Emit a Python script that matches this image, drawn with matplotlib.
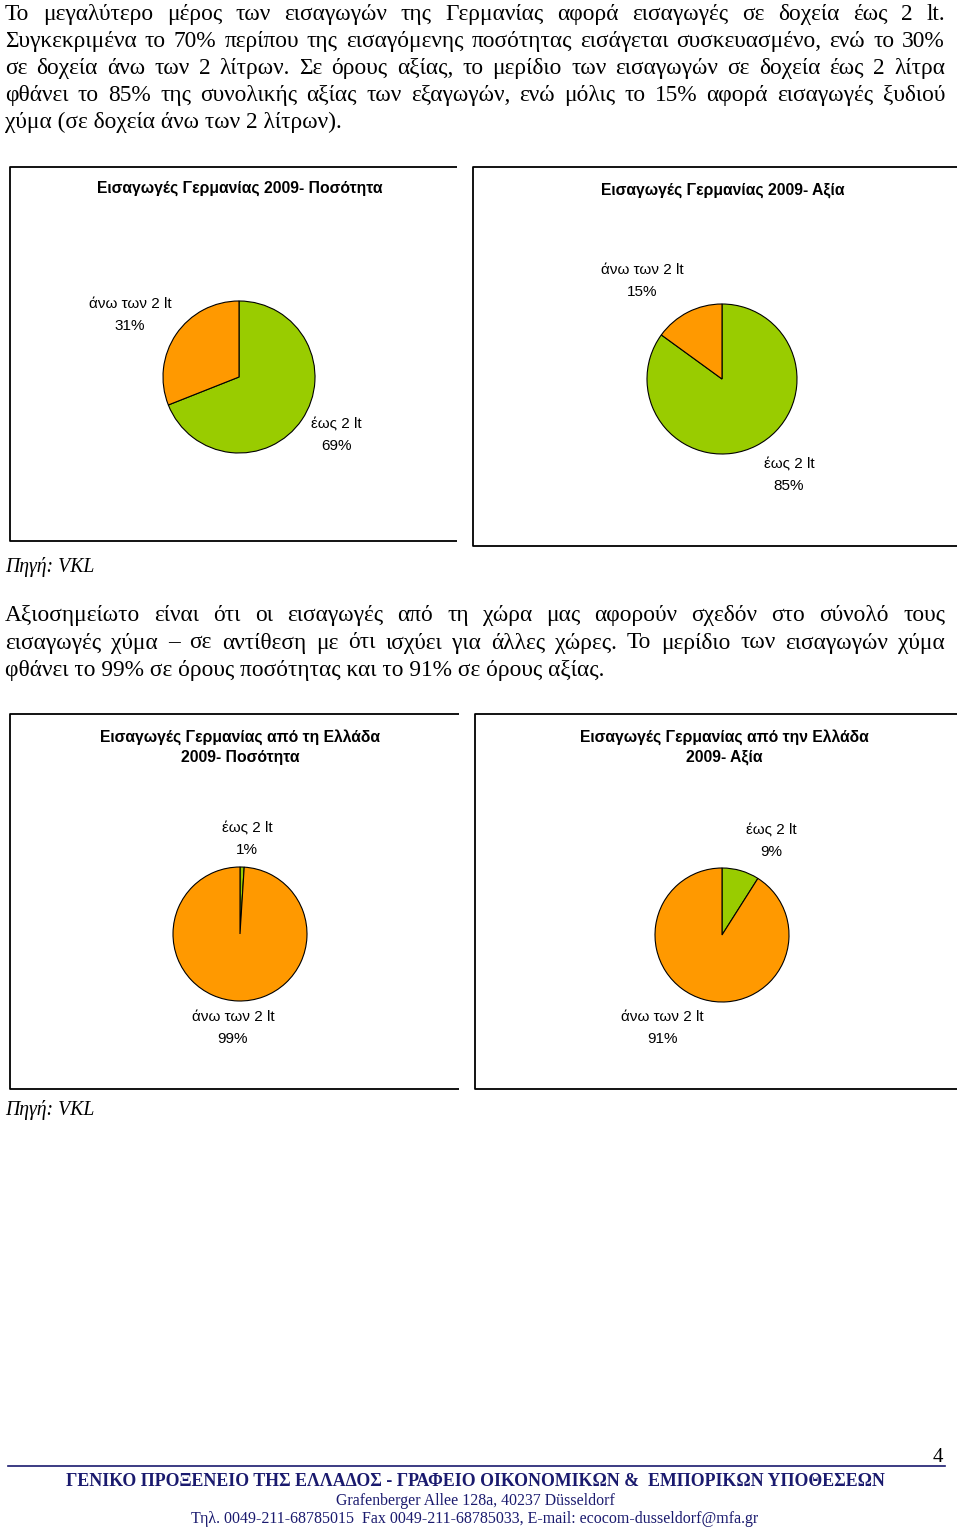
import matplotlib.pyplot as plt

# pie data: first slice goes clockwise from 12 o'clock (Excel style)
categories = ['έως 2 lt', 'άνω των 2 lt']
chart_titles = ['Εισαγωγές Γερμανίας 2009- Ποσότητα',
                'Εισαγωγές Γερμανίας 2009- Αξία',
                'Εισαγωγές Γερμανίας από τη Ελλάδα\n2009- Ποσότητα',
                'Εισαγωγές Γερμανίας από την Ελλάδα\n2009- Αξία']
qty_total = [69, 31]
val_total = [85, 15]
qty_greece = [1, 99]
val_greece = [9, 91]
slice_colors = ['#99CC00', '#FF9900']

para1 = ['Το μεγαλύτερο μέρος των εισαγωγών της Γερμανίας αφορά εισαγωγές σε δοχεία έως 2 lt.',
         'Συγκεκριμένα το 70% περίπου της εισαγόμενης ποσότητας εισάγεται συσκευασμένο, ενώ το 30%',
         'σε δοχεία άνω των 2 λίτρων. Σε όρους αξίας, το μερίδιο των εισαγωγών σε δοχεία έως 2 λίτρα',
         'φθάνει το 85% της συνολικής αξίας των εξαγωγών, ενώ μόλις το 15% αφορά εισαγωγές ξυδιού',
         'χύμα (σε δοχεία άνω των 2 λίτρων).']
para2 = ['Αξιοσημείωτο είναι ότι οι εισαγωγές από τη χώρα μας αφορούν σχεδόν στο σύνολό τους',
         'εισαγωγές χύμα – σε αντίθεση με ότι ισχύει για άλλες χώρες. Το μερίδιο των εισαγωγών χύμα',
         'φθάνει το 99% σε όρους ποσότητας και το 91% σε όρους αξίας.']
source = 'Πηγή: VKL'
footer = ['ΓΕΝΙΚΟ ΠΡΟΞΕΝΕΙΟ ΤΗΣ ΕΛΛΑΔΟΣ - ΓΡΑΦΕΙΟ ΟΙΚΟΝΟΜΙΚΩΝ &  ΕΜΠΟΡΙΚΩΝ ΥΠΟΘΕΣΕΩΝ',
          'Grafenberger Allee 128a, 40237 Düsseldorf',
          'Τηλ. 0049-211-68785015  Fax 0049-211-68785033, E-mail: ecocom-dusseldorf@mfa.gr']
page_no = '4'

W, H = 960, 1536
fig = plt.figure(figsize=(9.6, 15.36), dpi=100)
ax = fig.add_axes([0, 0, 1, 1])
navy = '#1a1a6e'


def Y(py):
    # page pixel row -> data y
    return H - py


def justified(lines, top_baseline, step, x0=5, x1=945, size=16.8):
    rend = fig.canvas.get_renderer()
    for i, line in enumerate(lines):
        y = Y(top_baseline + i * step)
        if i == len(lines) - 1:
            ax.text(x0, y, line, family='Liberation Serif', fontsize=size, va='baseline')
            continue
        words = line.split()
        ts = [ax.text(0, y, w, family='Liberation Serif', fontsize=size, va='baseline') for w in words]
        ws = [t.get_window_extent(rend).width for t in ts]
        gap = (x1 - x0 - sum(ws)) / (len(words) - 1)
        x = x0
        for t, w in zip(ts, ws):
            t.set_x(x)
            x += w + gap


justified(para1, 20, 27)
justified(para2, 621, 27.5)

# chart boxes: left, top, right, bottom (right side clipped in the document)
boxes = [(10, 167, 457, 541), (473, 167, 957, 546), (10, 714, 459, 1089), (475, 714, 957, 1089)]
for l, t, r, b in boxes:
    ax.plot([r, l, l, r], [Y(t), Y(t), Y(b), Y(b)], color='black', lw=1.3, solid_capstyle='butt')

data = [qty_total, val_total, qty_greece, val_greece]
centers = [(239, 377, 76), (722, 379, 75), (240, 934, 67), (722, 935, 67)]
title_pos = [(240, 188), (723, 190), (240, 747), (724, 747)]
# label positions for [έως, άνω]
label_pos = [[(336, 435), (130, 315)],
             [(789, 475), (642, 281)],
             [(247, 839), (233, 1028)],
             [(771, 841), (662, 1028)]]

for vals, (cx, cy, r), title, (tx, ty), lp in zip(data, centers, chart_titles, title_pos, label_pos):
    ax.pie(vals, colors=slice_colors, startangle=90, counterclock=False,
           center=(cx, Y(cy)), radius=r,
           wedgeprops=dict(edgecolor='black', linewidth=0.8))
    ax.text(tx, Y(ty), title, family='Liberation Sans', fontweight='bold', fontsize=11.3,
            ha='center', va='center', linespacing=1.45)
    for cat, v, (lx, ly) in zip(categories, vals, lp):
        ax.text(lx, Y(ly), '%s\n%d%%' % (cat, v), family='Liberation Sans', fontsize=11,
                ha='center', va='center', linespacing=1.65)

ax.text(5, Y(572), source, family='Liberation Serif', style='italic', fontsize=14.2, va='baseline')
ax.text(5, Y(1115), source, family='Liberation Serif', style='italic', fontsize=14.2, va='baseline')

# footer
ax.plot([8, 945], [Y(1466), Y(1466)], color=navy, lw=1.2)
ax.text(938, Y(1458), page_no, family='Liberation Serif', fontsize=15, ha='center', va='center')
ax.text(475, Y(1481), footer[0], family='Liberation Serif', fontweight='bold', fontsize=12.9,
        color=navy, ha='center', va='center')
ax.text(475, Y(1501), footer[1], family='Liberation Serif', fontsize=11.4,
        color=navy, ha='center', va='center')
ax.text(475, Y(1519), footer[2], family='Liberation Serif', fontsize=11.5,
        color=navy, ha='center', va='center')

ax.set_xlim(0, W)
ax.set_ylim(0, H)
ax.set_aspect('auto')
ax.axis('off')

fig.savefig('out.png', dpi=100, facecolor='white')
